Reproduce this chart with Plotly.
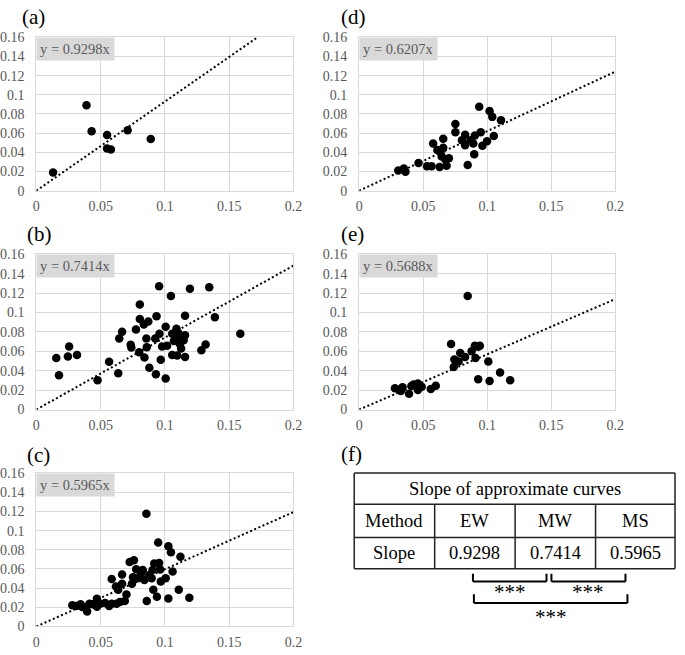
import plotly.graph_objects as go

# ---------------- data ----------------
a_x = [0.013, 0.039, 0.043, 0.055, 0.055, 0.058, 0.071, 0.089]
a_y = [0.019, 0.089, 0.062, 0.058, 0.044, 0.043, 0.063, 0.054]

b_x = [0.0155, 0.0176, 0.0255, 0.0245, 0.0316, 0.0476, 0.0566, 0.0637, 0.0645, 0.0667,
       0.0739, 0.0734, 0.0775, 0.0805, 0.0805, 0.0800, 0.0841, 0.0836, 0.0871, 0.0856,
       0.0859, 0.0879, 0.0925, 0.0930, 0.0935, 0.0955, 0.0958, 0.0968, 0.0978, 0.1006,
       0.1006, 0.1017, 0.1047, 0.1057, 0.1057, 0.1085, 0.1090, 0.1096, 0.1106, 0.1116,
       0.1121, 0.1146, 0.1157, 0.1157, 0.1157, 0.1195, 0.1284, 0.1317, 0.1345, 0.1389,
       0.1587, 0.1070, 0.1126]
b_y = [0.0532, 0.0354, 0.0650, 0.0546, 0.0563, 0.0303, 0.0492, 0.0374, 0.0731, 0.0802,
       0.0640, 0.0667, 0.0825, 0.1081, 0.0933, 0.0590, 0.0536, 0.0876, 0.0906, 0.0731,
       0.0643, 0.0431, 0.0731, 0.0364, 0.0960, 0.1270, 0.0781, 0.0512, 0.0650, 0.0852,
       0.0320, 0.0657, 0.1169, 0.0781, 0.0563, 0.0758, 0.0832, 0.0556, 0.0785, 0.0674,
       0.0741, 0.0714, 0.0765, 0.0542, 0.0967, 0.1243, 0.0610, 0.0670, 0.1260, 0.0950,
       0.0781, 0.0707, 0.0630]

c_x = [0.0280, 0.0311, 0.0344, 0.0357, 0.0395, 0.0377, 0.0413, 0.0433, 0.0471, 0.0471,
       0.0497, 0.0535, 0.0566, 0.0586, 0.0624, 0.0650, 0.0586, 0.0619, 0.0637, 0.0667,
       0.0667, 0.0688, 0.0701, 0.0726, 0.0759, 0.0752, 0.0744, 0.0777, 0.0790, 0.0815,
       0.0828, 0.0841, 0.0859, 0.0856, 0.0879, 0.0904, 0.0897, 0.0910, 0.0917, 0.0938,
       0.0948, 0.0955, 0.0963, 0.0968, 0.1006, 0.1027, 0.1027, 0.1047, 0.1060, 0.1108,
       0.1121, 0.1190]
c_y = [0.0221, 0.0214, 0.0231, 0.0204, 0.0156, 0.0197, 0.0238, 0.0231, 0.0289, 0.0207,
       0.0238, 0.0245, 0.0214, 0.0238, 0.0238, 0.0255, 0.0496, 0.0418, 0.0384, 0.0541,
       0.0445, 0.0265, 0.0333, 0.0673, 0.0690, 0.0513, 0.0445, 0.0598, 0.0503, 0.0554,
       0.0588, 0.0486, 0.0265, 0.1175, 0.0537, 0.0588, 0.0503, 0.0384, 0.0656, 0.0309,
       0.0876, 0.0663, 0.0595, 0.0469, 0.0503, 0.0292, 0.0836, 0.0775, 0.0574, 0.0384,
       0.0727, 0.0299]

d_x = [0.0306, 0.0349, 0.0362, 0.0464, 0.0530, 0.0566, 0.0578, 0.0611, 0.0637, 0.0645,
       0.0629, 0.0657, 0.0657, 0.0675, 0.0683, 0.0701, 0.0752, 0.0752, 0.0803, 0.0828,
       0.0828, 0.0848, 0.0871, 0.0892, 0.0904, 0.0899, 0.0938, 0.0950, 0.0963, 0.0999,
       0.1019, 0.1040, 0.1052, 0.1108]
d_y = [0.0210, 0.0231, 0.0197, 0.0288, 0.0254, 0.0254, 0.0492, 0.0424, 0.0407, 0.0356,
       0.0247, 0.0542, 0.0447, 0.0322, 0.0261, 0.0339, 0.0695, 0.0610, 0.0525, 0.0583,
       0.0475, 0.0268, 0.0525, 0.0492, 0.0576, 0.0380, 0.0875, 0.0610, 0.0468, 0.0515,
       0.0831, 0.0770, 0.0570, 0.0736]

e_x = [0.0280, 0.0313, 0.0339, 0.0326, 0.0390, 0.0408, 0.0425, 0.0459, 0.0459, 0.0489,
       0.0560, 0.0599, 0.0718, 0.0744, 0.0739, 0.0777, 0.0790, 0.0828, 0.0848, 0.0879,
       0.0904, 0.0909, 0.0930, 0.0943, 0.0930, 0.1009, 0.1019, 0.1101, 0.1180]
e_y = [0.0219, 0.0202, 0.0229, 0.0192, 0.0162, 0.0243, 0.0259, 0.0269, 0.0202, 0.0236,
       0.0212, 0.0246, 0.0674, 0.0515, 0.0438, 0.0495, 0.0583, 0.0542, 0.1169, 0.0600,
       0.0657, 0.0532, 0.0647, 0.0657, 0.0313, 0.0495, 0.0293, 0.0381, 0.0303]

panel_labels = ["(a)", "(b)", "(c)", "(d)", "(e)"]
panel_slopes = [0.9298, 0.7414, 0.5965, 0.6207, 0.5688]
x_ticks = [0, 0.05, 0.1, 0.15, 0.2]
y_ticks = [0, 0.02, 0.04, 0.06, 0.08, 0.1, 0.12, 0.14, 0.16]

table_title = "Slope of approximate curves"
table_methods = ["EW", "MW", "MS"]
table_slopes = [0.9298, 0.7414, 0.5965]
row_headers = ["Method", "Slope"]
sig_pairs = [("EW", "MW", "***"), ("MW", "MS", "***"), ("EW", "MS", "***")]

# ---------------- layout constants ----------------
W, H = 685, 655
FONT = "'Liberation Serif', 'Times New Roman', Times, serif"
GRID = "#d9d9d9"
TXT = "#595959"


def px_x(p):
    return p / W


def px_y(p):
    return 1 - p / H


cols = {"L": (33, 295), "R": (362, 623)}
rows = {1: (31, 188), 2: (253, 412), 3: (477, 634)}
placement = [("L", 1), ("L", 2), ("L", 3), ("R", 1), ("R", 2)]
label_pos = [(16, 10), (21, 232), (21, 459), (341, 10), (341, 232)]

series = [(a_x, a_y), (b_x, b_y), (c_x, c_y), (d_x, d_y), (e_x, e_y)]

fig = go.Figure()
annotations = []
shapes = []

for i, ((xs, ys), slope, lab, (cname, rnum), lp) in enumerate(
        zip(series, panel_slopes, panel_labels, placement, label_pos)):
    n = i + 1
    xa = "x" if n == 1 else f"x{n}"
    ya = "y" if n == 1 else f"y{n}"
    xkey = "xaxis" if n == 1 else f"xaxis{n}"
    ykey = "yaxis" if n == 1 else f"yaxis{n}"
    c0, c1 = cols[cname]
    r0, r1 = rows[rnum]
    x_end = min(x_ticks[-1], y_ticks[-1] / slope)
    fig.add_trace(go.Scatter(
        x=[0, x_end], y=[0, slope * x_end], mode="lines",
        line=dict(color="black", width=2, dash="2px,2.5px"),
        xaxis=xa, yaxis=ya, showlegend=False, hoverinfo="skip"))
    fig.add_trace(go.Scatter(
        x=xs, y=ys, mode="markers",
        marker=dict(color="black", size=8.5),
        xaxis=xa, yaxis=ya, showlegend=False))
    fig.layout[xkey] = dict(
        domain=[px_x(c0), px_x(c1)], range=[x_ticks[0], x_ticks[-1]],
        anchor=ya, tickvals=x_ticks, ticktext=[f"{v:g}" for v in x_ticks],
        showgrid=True, gridcolor=GRID, gridwidth=1, zeroline=False,
        showline=True, linecolor=GRID, linewidth=1, mirror=True,
        ticks="outside", ticklen=3, tickcolor="rgba(0,0,0,0)",
        tickfont=dict(family=FONT, size=14, color=TXT), fixedrange=True)
    fig.layout[ykey] = dict(
        domain=[px_y(r1), px_y(r0)], range=[y_ticks[0], y_ticks[-1]],
        anchor=xa, tickvals=y_ticks, ticktext=[f"{v:g}" for v in y_ticks],
        showgrid=True, gridcolor=GRID, gridwidth=1, zeroline=False,
        showline=True, linecolor=GRID, linewidth=1, mirror=True,
        ticks="outside", ticklen=8, tickcolor="rgba(0,0,0,0)",
        tickfont=dict(family=FONT, size=14, color=TXT), fixedrange=True)
    annotations.append(dict(
        xref=f"{xa} domain", yref=f"{ya} domain", x=0, y=1,
        xanchor="left", yanchor="top", showarrow=False,
        text=f"y = {slope:.4f}x", bgcolor=GRID, borderpad=3,
        font=dict(family=FONT, size=14.5, color=TXT)))
    annotations.append(dict(
        xref="paper", yref="paper", x=px_x(lp[0]), y=px_y(lp[1]),
        xanchor="left", yanchor="middle", showarrow=False, text=lab,
        font=dict(family=FONT, size=21, color="black")))

# ---------------- table (f) ----------------
annotations.append(dict(
    xref="paper", yref="paper", x=px_x(341), y=px_y(457),
    xanchor="left", yanchor="middle", showarrow=False, text="(f)",
    font=dict(family=FONT, size=21, color="black")))

tcols = [357, 439, 521, 603, 684]
trows = [477, 509, 543, 575]
LC = "#222222"


def hline(x0, x1, y, w=1.5, c=LC):
    shapes.append(dict(type="line", xref="paper", yref="paper",
                       x0=px_x(x0), x1=px_x(x1), y0=px_y(y), y1=px_y(y),
                       line=dict(color=c, width=w)))


def vline(x, y0, y1, w=1.5, c=LC):
    shapes.append(dict(type="line", xref="paper", yref="paper",
                       x0=px_x(x), x1=px_x(x), y0=px_y(y0), y1=px_y(y1),
                       line=dict(color=c, width=w)))


for yv in trows:
    hline(tcols[0], tcols[-1], yv)
vline(tcols[0], trows[0], trows[-1])
vline(tcols[-1], trows[0], trows[-1])
for xv in tcols[1:-1]:
    vline(xv, trows[1], trows[-1])


def cell_text(x, y, t):
    annotations.append(dict(xref="paper", yref="paper", x=px_x(x), y=px_y(y),
                            xanchor="center", yanchor="middle", showarrow=False,
                            text=t, font=dict(family=FONT, size=18.5, color="black")))


cell_text((tcols[0] + tcols[-1]) / 2, (trows[0] + trows[1]) / 2, table_title)
cell_text((tcols[0] + tcols[1]) / 2, (trows[1] + trows[2]) / 2, row_headers[0])
cell_text((tcols[0] + tcols[1]) / 2, (trows[2] + trows[3]) / 2, row_headers[1])
centers = {}
for j, (m, s) in enumerate(zip(table_methods, table_slopes)):
    cx = (tcols[j + 1] + tcols[j + 2]) / 2
    centers[m] = cx
    cell_text(cx, (trows[1] + trows[2]) / 2, m)
    cell_text(cx, (trows[2] + trows[3]) / 2, f"{s:.4f}")

# brackets: (left offset, right offset, top y, bottom y, star y)
bracket_geom = [(-2, -9, 580, 588, 599), (-4, -10, 580, 588, 599), (-1, -8, 601, 610, 624)]
for (m0, m1, star), (o0, o1, yt, yb, ys) in zip(sig_pairs, bracket_geom):
    x0 = centers[m0] + o0
    x1 = centers[m1] + o1
    vline(x0, yt, yb, w=2, c="black")
    vline(x1, yt, yb, w=2, c="black")
    hline(x0, x1, yb, w=2, c="black")
    annotations.append(dict(xref="paper", yref="paper", x=px_x((x0 + x1) / 2),
                            y=px_y(ys), xanchor="center", yanchor="middle",
                            showarrow=False, text=star,
                            font=dict(family=FONT, size=21, color="black")))

fig.update_layout(
    width=W, height=H, autosize=False,
    margin=dict(l=0, r=0, t=0, b=0),
    paper_bgcolor="white", plot_bgcolor="white",
    font=dict(family=FONT),
    annotations=annotations, shapes=shapes, showlegend=False)

fig.write_html(
    "out.html",
    config={"displayModeBar": False},
    post_script="document.body.style.margin='0';document.body.style.padding='0';"
                "document.body.style.overflow='hidden';")
